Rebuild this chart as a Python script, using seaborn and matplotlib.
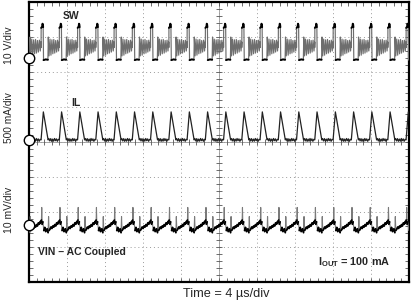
import numpy as np
import pandas as pd
import matplotlib
matplotlib.use("Agg")
import matplotlib.pyplot as plt
import seaborn as sns

# ---- data ----
# times (µs) of the inductor-current peaks (one per switching cycle)
peak_times = [-0.41, 1.51, 3.43, 5.35, 7.27, 9.19, 11.11, 13.03, 14.96, 16.88,
              18.80, 20.72, 22.64, 24.56, 26.48, 28.40, 30.32, 32.25, 34.17,
              36.09, 38.01, 39.93]

# one switching cycle of each trace, time relative to the current peak (µs)
il_t = [-0.24, 0.00, 0.50, 0.58, 0.68, 0.78, 0.88, 0.98, 1.08, 1.18, 1.28, 1.38, 1.48, 1.58]
il_v = [0, 400, 0, 20, -15, 18, -20, 12, -18, 20, -12, 15, -20, 8]          # mA

sw_t = [-0.24, -0.23, -0.12, -0.09, -0.05, -0.02, 0.02, 0.25, 0.48,
        0.52, 0.60, 0.70, 0.80, 0.90, 1.00, 1.10, 1.20, 1.30, 1.40, 1.50, 1.60, 1.67]
sw_v = [3.0, 8.6, 9.0, 9.8, 9.6, 8.8, -0.6, -0.4, -0.5,
        6.0, 0.6, 5.4, 0.8, 5.2, 1.2, 5.3, 1.4, 5.0, 1.7, 5.1, 2.0, 4.6]      # V

vin_t = [-0.24, -0.20, -0.17, -0.13, -0.05, 0.05, 0.15, 0.25, 0.40, 0.50,
         0.55, 0.60, 0.70, 0.80, 0.90, 1.00, 1.10, 1.20, 1.30, 1.40, 1.50, 1.60, 1.66]
vin_v = [0.9, 1.4, 5.0, 0.2, 0.9, -1.6, -0.7, -1.9, -1.1, -2.2,
         2.4, -1.6, -1.2, -0.6, -1.0, -0.3, -0.6, 0.1, -0.3, 0.6, 0.2, 1.0, 0.6]  # mV

# channel scale (unit / div) and ground position (div)
sw_scale, sw_gnd = 10.0, 2.4
il_scale, il_gnd = 500.0, 0.06
vin_scale, vin_gnd = 10.0, -2.37


def build(tt, vv, scale, gnd):
    t = np.concatenate([np.array(tt) + p for p in peak_times])
    v = np.concatenate([np.array(vv) for _ in peak_times])
    m = (t >= 0) & (t <= 40)
    return pd.DataFrame({"t": t[m], "y": v[m] / scale + gnd})


def slow_part(df, thr):
    """segments that change slowly (a scope draws them dark); one unit per run"""
    t = df["t"].to_numpy()
    y = df["y"].to_numpy()
    d = np.abs(np.diff(y))
    rows = []
    unit = 0
    prev_kept = False
    for i in range(len(d)):
        if d[i] < thr:
            if not prev_kept:
                unit += 1
                rows.append((t[i], y[i], unit))
            rows.append((t[i + 1], y[i + 1], unit))
            prev_kept = True
        else:
            prev_kept = False
    return pd.DataFrame(rows, columns=["t", "y", "u"])


sns.set_style("white")
plt.rcParams["font.family"] = ["Liberation Sans", "DejaVu Sans"]
plt.rcParams["mathtext.fontset"] = "custom"
plt.rcParams["mathtext.rm"] = "Liberation Sans:bold"

fig = plt.figure(figsize=(4.11, 3.02), dpi=100)
ax = fig.add_axes([29 / 411, 1 - 282 / 302, 380 / 411, 280 / 302])
ax.set_xlim(0, 40)
ax.set_ylim(-4, 4)

# grid
for x in range(4, 40, 4):
    ax.axvline(x, color="#9a9a9a", lw=0.7, ls=(0, (1, 3)), zorder=0)
for y in range(-3, 4):
    ax.axhline(y, color="#9a9a9a", lw=0.7, ls=(0, (1, 3)), zorder=0)
ax.axvline(20, color="#9a9a9a", lw=0.6, zorder=0)
ax.axhline(0, color="#9a9a9a", lw=0.6, zorder=0)
# centre-line minor ticks
xm = np.arange(0.8, 40, 0.8)
ax.vlines(xm, -0.08, 0.08, color="#555555", lw=0.6, zorder=0)
ym = np.arange(-3.8, 4, 0.2)
ax.hlines(ym, 19.7, 20.3, color="#555555", lw=0.6, zorder=0)

sw_df = build(sw_t, sw_v, sw_scale, sw_gnd)
il_df = build(il_t, il_v, il_scale, il_gnd)
vin_df = build(vin_t, vin_v, vin_scale, vin_gnd)

# fast parts appear grey on the scope, slow parts black
sns.lineplot(data=sw_df, x="t", y="y", ax=ax, color="#6e6e6e", lw=0.85,
             sort=False, estimator=None, zorder=3)
sns.lineplot(data=slow_part(sw_df, 0.1), x="t", y="y", units="u", ax=ax,
             color="black", lw=1.4, sort=False, estimator=None, zorder=4)
sns.lineplot(data=il_df, x="t", y="y", ax=ax, color="#222222", lw=0.9,
             sort=False, estimator=None, zorder=3)
sns.lineplot(data=vin_df, x="t", y="y", ax=ax, color="#7a7a7a", lw=0.8,
             sort=False, estimator=None, zorder=3)
sns.lineplot(data=slow_part(vin_df, 0.15), x="t", y="y", units="u", ax=ax,
             color="black", lw=1.3, sort=False, estimator=None, zorder=4)

# ground markers
for g in (sw_gnd, il_gnd, vin_gnd):
    ax.plot([0], [g], marker="o", ms=7.5, mfc="white", mec="black", mew=1.0,
            clip_on=False, zorder=5)

ax.set_xticks(np.arange(0, 40.01, 0.8))
ax.set_yticks(np.arange(-4, 4.01, 0.2))
ax.set_xticklabels([])
ax.set_yticklabels([])
ax.tick_params(direction="in", length=3, width=0.6, color="#555555",
               top=True, right=True, bottom=True, left=True)
ax.set_xlabel("")
ax.set_ylabel("")
for s in ax.spines.values():
    s.set_visible(True)
    s.set_color("black")
    s.set_linewidth(1.6)

# channel texts
ax.text(3.6, (142 - 16) / 35, "SW", fontsize=7.5,
        fontweight="bold", ha="left", va="center")
ax.text(4.45, (142 - 103) / 35, "IL", fontsize=7.5, fontweight="bold",
        ha="left", va="center")
ax.text(0.95, (142 - 252) / 35, "VIN – AC Coupled", fontsize=7.5,
        fontweight="bold", ha="left", va="center")
ax.text(30.4, (142 - 262) / 35, r"$\mathrm{I_{OUT}}$ = 100 mA", fontsize=7.8,
        fontweight="bold", ha="left", va="center")

fig.text(9 / 411, 1 - 45 / 302, "10 V/div", rotation=90, fontsize=7.5,
         ha="center", va="center")
fig.text(9 / 411, 1 - 118 / 302, "500 mA/div", rotation=90, fontsize=7.3,
         ha="center", va="center")
fig.text(9 / 411, 1 - 210 / 302, "10 mV/div", rotation=90, fontsize=7.5,
         ha="center", va="center")
fig.text(226 / 411, 1 - 294 / 302, "Time = 4 µs/div", fontsize=9.2,
         ha="center", va="center")

fig.savefig("out.png", dpi=100)
